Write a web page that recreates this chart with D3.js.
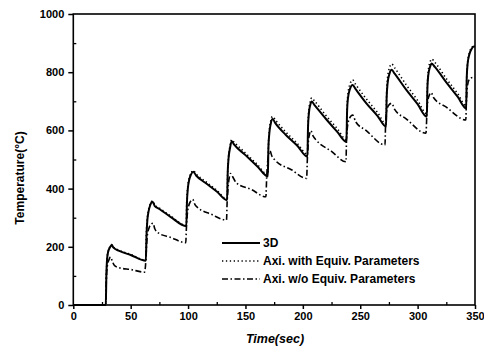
<!DOCTYPE html>
<html>
<head>
<meta charset="utf-8">
<script src="https://cdn.jsdelivr.net/npm/d3@7"></script>
<style>
  body { margin: 0; background: #fff; }
  svg text { font-family: "Liberation Sans", Arial, sans-serif; font-weight: bold; fill: #000; }
</style>
</head>
<body>
<div class="container"></div>
<script>
// series: time (sec) / temperature (C)
const time3D = [0, 28.3, 28.8, 29.5, 30.5, 32, 33.5, 35, 40, 50, 63.2,
  63.8, 64.5, 65.5, 67, 69, 71, 75, 85, 98.5,
  99, 99.8, 101, 102.5, 104.5, 107, 115, 125, 134,
  134.5, 135.3, 136.5, 138, 140, 150, 160, 169.5,
  170, 170.8, 172, 173.6, 176, 185, 195, 204,
  204.5, 205.3, 206.5, 207.7, 210, 220, 230, 238,
  238.5, 239.3, 241, 243.4, 246, 255, 265, 272.5,
  273, 273.8, 275.5, 277.4, 280, 290, 300, 308,
  308.5, 309.3, 310.8, 312.3, 315, 325, 335, 342.3,
  342.8, 343.6, 345, 347, 349, 350];
const temp3D = [0, 0, 100, 160, 185, 198, 206, 197, 186, 172, 152,
  240, 290, 320, 343, 355, 340, 330, 302, 271,
  350, 400, 430, 448, 458, 445, 420, 390, 360,
  450, 505, 538, 563, 552, 515, 478, 442,
  540, 590, 622, 639, 625, 585, 548, 510,
  610, 660, 688, 699, 688, 640, 595, 561,
  660, 710, 742, 756, 742, 695, 650, 613,
  710, 760, 795, 808, 795, 740, 690, 647,
  740, 790, 818, 830, 818, 765, 715, 676,
  780, 830, 860, 880, 888, 888];

const timeWith = [0, 28.3, 28.8, 29.5, 30.5, 32, 33.5, 35, 40, 50, 63,
  63.6, 64.3, 65.3, 67, 69, 71, 75, 85, 98.3,
  98.8, 99.6, 100.8, 102.5, 104.5, 107, 115, 125, 134,
  134.5, 135.3, 136.5, 138, 140, 150, 160, 169.5,
  170, 170.8, 172, 173.6, 176, 185, 195, 204,
  204.5, 205.3, 206.5, 207.7, 210, 220, 230, 238,
  238.5, 239.3, 241, 243.4, 246, 255, 265, 272.5,
  273, 273.8, 275.5, 277.4, 280, 290, 300, 308,
  308.5, 309.3, 310.8, 312.3, 315, 325, 335, 342.3,
  342.8, 343.6, 345, 347, 349, 350];
const tempWith = [0, 0, 100, 160, 186, 200, 208, 199, 188, 174, 154,
  240, 290, 322, 346, 358, 344, 333, 305, 274,
  350, 402, 433, 452, 462, 450, 425, 394, 364,
  455, 510, 545, 568, 560, 522, 484, 448,
  545, 598, 632, 648, 636, 595, 556, 518,
  620, 672, 700, 712, 702, 652, 606, 568,
  670, 725, 758, 773, 758, 710, 662, 622,
  725, 780, 815, 828, 815, 757, 703, 657,
  752, 805, 834, 845, 834, 778, 726, 684,
  785, 835, 865, 884, 890, 890];

const timeWo = [0, 28.3, 28.8, 29.5, 31, 32.5, 34, 36, 40, 50, 62,
  63, 63.8, 64.5, 66, 68, 69.5, 71, 74, 85, 98,
  98.5, 99.3, 100.5, 102, 104, 106, 109, 120, 133.5,
  134, 134.8, 136, 137, 139, 142, 155, 167.8,
  168.5, 169.3, 170.5, 171.3, 173, 176, 190, 203.3,
  204, 204.8, 206, 207, 209, 212, 225, 237.6,
  238, 238.8, 240.5, 243.4, 246, 255, 271.6,
  272, 272.8, 274.5, 277.4, 280, 290, 307.3,
  308, 308.8, 310.3, 311.7, 314, 325, 342,
  342.5, 343.3, 345, 348, 350];
const tempWo = [0, 0, 90, 130, 155, 165, 150, 135, 128, 122, 113,
  140, 200, 240, 265, 278, 281, 262, 248, 232, 214,
  260, 310, 340, 355, 363, 345, 333, 312, 292,
  350, 400, 440, 452, 440, 420, 397, 372,
  440, 490, 522, 530, 512, 497, 465, 435,
  510, 560, 590, 599, 580, 565, 528, 492,
  560, 610, 640, 653, 630, 600, 550,
  610, 660, 685, 693, 672, 640, 590,
  650, 700, 722, 730, 712, 680, 636,
  700, 750, 775, 782, 782];

const seriesNames = ['3D', 'Axi. with Equiv. Parameters', 'Axi. w/o Equiv. Parameters'];
const xMajorTicks = [0, 50, 100, 150, 200, 250, 300, 350];
const yMajorTicks = [0, 200, 400, 600, 800, 1000];

const width = 484;
const height = 348;

const svg = d3.select('.container').append('svg')
  .attr('width', width)
  .attr('height', height);

const x = d3.scaleLinear().domain([0, 350]).range([73.3, 475]);
const y = d3.scaleLinear().domain([0, 1000]).range([305, 14]);

const dashes = ['none', '1.3,2.6', '6,2.5,1.5,2.5'];
const widths = [2, 1.6, 1.6];

const series = [
  d3.zip(time3D, temp3D),
  d3.zip(timeWith, tempWith),
  d3.zip(timeWo, tempWo)
];

const line = d3.line()
  .x(d => x(d[0]))
  .y(d => y(d[1]))
  .curve(d3.curveMonotoneX);

// draw the two Axi lines first so 3D sits on top
[2, 1, 0].forEach(i => {
  svg.append('path')
    .datum(series[i])
    .attr('fill', 'none')
    .attr('stroke', '#000')
    .attr('stroke-width', widths[i])
    .attr('stroke-dasharray', dashes[i])
    .attr('stroke-linejoin', 'round')
    .attr('d', line);
});

// frame
svg.append('rect')
  .attr('x', x(0)).attr('y', y(1000))
  .attr('width', x(350) - x(0)).attr('height', y(0) - y(1000))
  .attr('fill', 'none').attr('stroke', '#000').attr('stroke-width', 1.6);

// bottom axis: major ticks outside, minor inside
const xAxis = svg.append('g').attr('transform', `translate(0,${y(0)})`)
  .call(d3.axisBottom(x).tickValues(xMajorTicks).tickSize(4).tickPadding(3).tickFormat(d3.format('d')));
xAxis.select('.domain').remove();
xAxis.selectAll('line').attr('stroke-width', 1.5);
xAxis.selectAll('text').style('font-size', '11px').attr('fill', '#000');

const xMinor = svg.append('g').attr('transform', `translate(0,${y(0)})`)
  .call(d3.axisTop(x).tickValues(d3.range(25, 350, 50)).tickSize(3).tickFormat(''));
xMinor.select('.domain').remove();
xMinor.selectAll('line').attr('stroke-width', 1.3);

const yAxis = svg.append('g').attr('transform', `translate(${x(0)},0)`)
  .call(d3.axisLeft(y).tickValues(yMajorTicks).tickSize(5).tickPadding(4).tickFormat(d3.format('d')));
yAxis.select('.domain').remove();
yAxis.selectAll('line').attr('stroke-width', 1.5);
yAxis.selectAll('text').style('font-size', '11px').attr('fill', '#000');

const yMinor = svg.append('g').attr('transform', `translate(${x(0)},0)`)
  .call(d3.axisRight(y).tickValues(d3.range(100, 1000, 200)).tickSize(3).tickFormat(''));
yMinor.select('.domain').remove();
yMinor.selectAll('line').attr('stroke-width', 1.3);

// axis titles
svg.append('text')
  .attr('x', 275).attr('y', 343)
  .attr('text-anchor', 'middle')
  .style('font-size', '12.5px')
  .style('font-style', 'italic')
  .text('Time(sec)');

svg.append('text')
  .attr('transform', 'translate(24,178) rotate(-90)')
  .attr('text-anchor', 'middle')
  .style('font-size', '12px')
  .text('Temperature(°C)');

// legend
const legend = svg.append('g').attr('transform', 'translate(222,243)');
const rows = legend.selectAll('g')
  .data(seriesNames)
  .enter()
  .append('g')
  .attr('transform', (d, i) => `translate(0,${i * 18})`);

rows.append('line')
  .attr('x1', 0).attr('x2', 38)
  .attr('stroke', '#000')
  .attr('stroke-width', (d, i) => widths[i])
  .attr('stroke-dasharray', (d, i) => dashes[i]);

rows.append('text')
  .attr('x', 41).attr('dy', '0.36em')
  .style('font-size', '12px')
  .text(d => d);
</script>
</body>
</html>
